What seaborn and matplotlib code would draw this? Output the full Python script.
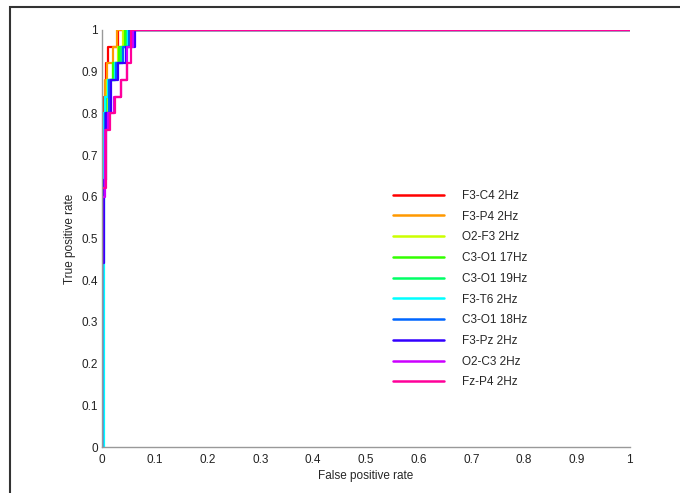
import matplotlib
matplotlib.use("Agg")
import matplotlib.pyplot as plt
import seaborn as sns
import pandas as pd
from matplotlib.patches import Rectangle

labels = ["F3-C4 2Hz", "F3-P4 2Hz", "O2-F3 2Hz", "C3-O1 17Hz", "C3-O1 19Hz",
          "F3-T6 2Hz", "C3-O1 18Hz", "F3-Pz 2Hz", "O2-C3 2Hz", "Fz-P4 2Hz"]
colors = ["#FF0000", "#FF9900", "#CCFF00", "#33FF00", "#00FF66",
          "#00FFFF", "#0066FF", "#3300FF", "#CC00FF", "#FF0099"]

fpr_f3c4 = [0, 0, 0.004, 0.008, 0.012, 0.030, 1]
tpr_f3c4 = [0, 0.76, 0.84, 0.92, 0.96, 1, 1]
fpr_f3p4 = [0, 0, 0.003, 0.006, 0.010, 0.020, 0.028, 1]
tpr_f3p4 = [0, 0.68, 0.80, 0.88, 0.92, 0.96, 1, 1]
fpr_o2f3 = [0, 0, 0.005, 0.010, 0.020, 0.030, 0.040, 1]
tpr_o2f3 = [0, 0.72, 0.80, 0.88, 0.92, 0.96, 1, 1]
fpr_c3o1_17 = [0, 0, 0.006, 0.012, 0.020, 0.032, 0.043, 1]
tpr_c3o1_17 = [0, 0.76, 0.84, 0.88, 0.92, 0.96, 1, 1]
fpr_c3o1_19 = [0, 0, 0.008, 0.015, 0.025, 0.036, 0.047, 1]
tpr_c3o1_19 = [0, 0.80, 0.84, 0.88, 0.92, 0.96, 1, 1]
fpr_f3t6 = [0, 0.003, 0.006, 0.012, 0.024, 0.040, 0.050, 1]
tpr_f3t6 = [0, 0.80, 0.84, 0.88, 0.92, 0.96, 1, 1]
fpr_c3o1_18 = [0, 0, 0.006, 0.014, 0.026, 0.040, 0.052, 1]
tpr_c3o1_18 = [0, 0.64, 0.80, 0.88, 0.92, 0.96, 1, 1]
fpr_f3pz = [0, 0, 0.003, 0.008, 0.018, 0.030, 0.045, 0.062, 1]
tpr_f3pz = [0, 0.44, 0.64, 0.80, 0.88, 0.92, 0.96, 1, 1]
fpr_o2c3 = [0, 0, 0.006, 0.012, 0.022, 0.036, 0.048, 0.058, 1]
tpr_o2c3 = [0, 0.60, 0.76, 0.80, 0.84, 0.88, 0.96, 1, 1]
fpr_fzp4 = [0, 0, 0.008, 0.016, 0.024, 0.036, 0.048, 0.055, 1]
tpr_fzp4 = [0, 0.62, 0.76, 0.80, 0.84, 0.88, 0.92, 1, 1]

fprs = [fpr_f3c4, fpr_f3p4, fpr_o2f3, fpr_c3o1_17, fpr_c3o1_19,
        fpr_f3t6, fpr_c3o1_18, fpr_f3pz, fpr_o2c3, fpr_fzp4]
tprs = [tpr_f3c4, tpr_f3p4, tpr_o2f3, tpr_c3o1_17, tpr_c3o1_19,
        tpr_f3t6, tpr_c3o1_18, tpr_f3pz, tpr_o2c3, tpr_fzp4]

rows = []
for lab, fx, ty in zip(labels, fprs, tprs):
    for i, (a, b) in enumerate(zip(fx, ty)):
        rows.append({"series": lab, "order": i, "fpr": a, "tpr": b})
df = pd.DataFrame(rows)

sns.set_style("white")
plt.rcParams["font.family"] = ["Liberation Sans", "DejaVu Sans"]

fig = plt.figure(figsize=(6.8, 4.93), dpi=100)
ax = fig.add_axes([0.15, 0.0933, 0.776, 0.846])

sns.lineplot(data=df, x="fpr", y="tpr", hue="series", hue_order=labels,
             palette=colors, estimator=None, sort=False, units="series",
             drawstyle="steps-post", linewidth=1.6, ax=ax, legend=True)

ax.set_xlim(0, 1)
ax.set_ylim(0, 1)
ax.set_xticks([i / 10 for i in range(11)])
ax.set_yticks([i / 10 for i in range(11)])
ax.set_xticklabels(["0", "0.1", "0.2", "0.3", "0.4", "0.5", "0.6", "0.7", "0.8", "0.9", "1"])
ax.set_yticklabels(["0", "0.1", "0.2", "0.3", "0.4", "0.5", "0.6", "0.7", "0.8", "0.9", "1"])
ax.set_xlabel("False positive rate", fontsize=8.5, labelpad=3)
ax.set_ylabel("True positive rate", fontsize=8.5, labelpad=4)
ax.tick_params(direction="in", length=4, width=0.8, color="#999999",
               labelsize=8.5, labelcolor="#222222")
ax.tick_params(axis="x", pad=5)
ax.tick_params(axis="y", pad=3)
for s in ["top", "right"]:
    ax.spines[s].set_visible(False)
for s in ["left", "bottom"]:
    ax.spines[s].set_color("#999999")
    ax.spines[s].set_linewidth(1.0)

leg = ax.legend(loc="upper left", bbox_to_anchor=(0.532, 0.642), frameon=False,
                fontsize=8.5, handlelength=4.3, handletextpad=1.55,
                labelspacing=0.74)
for line in leg.get_lines():
    line.set_linewidth(1.8)

fig.patches.append(Rectangle((10 / 680, -0.1), 1.2, 1 - 7 / 493 + 0.1,
                             transform=fig.transFigure, fill=False,
                             edgecolor="#333333", linewidth=1.5))

fig.savefig("out.png", dpi=100)
